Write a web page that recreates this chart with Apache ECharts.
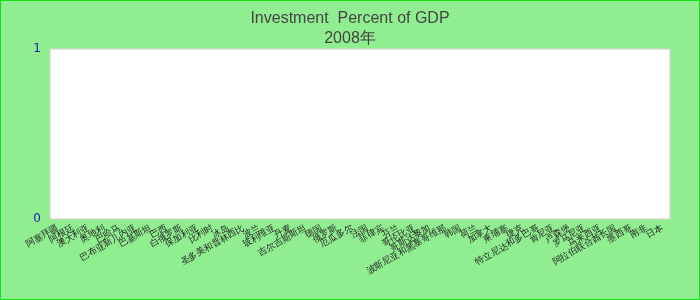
<!DOCTYPE html>
<html>
<head>
<meta charset="utf-8">
<script src="https://cdn.jsdelivr.net/npm/echarts@6/dist/echarts.min.js"></script>
<style>
  html, body { margin: 0; padding: 0; background: #90ee90; }
  #chart { width: 700px; height: 300px; box-sizing: border-box; border: 1px solid #11e011; }
</style>
</head>
<body>
<div id="chart"></div>
<script>
// Countries along the category axis
const countries = [
  '阿塞拜疆', '阿根廷', '澳大利亚', '奥地利', '巴哈马', '巴布亚新几内亚', '巴基斯坦', '巴西',
  '白俄罗斯', '保加利亚', '比利时', '冰岛', '圣多美和普林西比', '波兰', '玻利维亚', '丹麦',
  '吉尔吉斯斯坦', '德国', '俄罗斯', '厄瓜多尔', '法国', '菲律宾', '芬兰', '哥伦比亚',
  '哥斯达黎加', '波斯尼亚和黑塞哥维那', '韩国', '荷兰', '加拿大', '柬埔寨', '捷克', '特立尼达和多巴哥',
  '肯尼亚', '卢森堡', '罗马尼亚', '马来西亚', '阿拉伯联合酋长国', '墨西哥', '南非', '日本'
];

// Investment as a percent of GDP for 2008 — no figures available
const investmentPct = [
  '-', '-', '-', '-', '-', '-', '-', '-', '-', '-',
  '-', '-', '-', '-', '-', '-', '-', '-', '-', '-',
  '-', '-', '-', '-', '-', '-', '-', '-', '-', '-',
  '-', '-', '-', '-', '-', '-', '-', '-', '-', '-'
];

// Value axis ticks
const yMin = 0;
const yMax = 1;
const yStep = 1;

const chart = echarts.init(document.getElementById('chart'), null, { renderer: 'canvas' });

chart.setOption({
  backgroundColor: '#90ee90',
  animation: false,
  title: {
    text: 'Investment  Percent of GDP\n2008年',
    left: 'center',
    top: 3,
    textStyle: {
      fontFamily: 'Liberation Sans, Arial, sans-serif',
      fontSize: 16,
      fontWeight: 'normal',
      color: '#444',
      lineHeight: 20
    }
  },
  grid: {
    left: 49,
    right: 29,
    top: 48,
    bottom: 80,
    show: true,
    backgroundColor: '#ffffff',
    borderColor: '#d0d0d0',
    borderWidth: 1
  },
  xAxis: {
    type: 'category',
    data: countries,
    axisLine: { show: false },
    axisTick: { show: false },
    axisLabel: {
      interval: 0,
      rotate: 30,
      margin: 8,
      fontSize: 9,
      color: '#222'
    }
  },
  yAxis: {
    type: 'value',
    min: yMin,
    max: yMax,
    interval: yStep,
    axisLine: { show: false },
    axisTick: { show: false },
    splitLine: { show: false },
    axisLabel: {
      margin: 9,
      fontSize: 12,
      color: '#1a1aa6',
      fontFamily: 'DejaVu Sans, sans-serif'
    }
  },
  series: [{
    name: 'Investment',
    type: 'bar',
    data: investmentPct
  }]
});
</script>
</body>
</html>
